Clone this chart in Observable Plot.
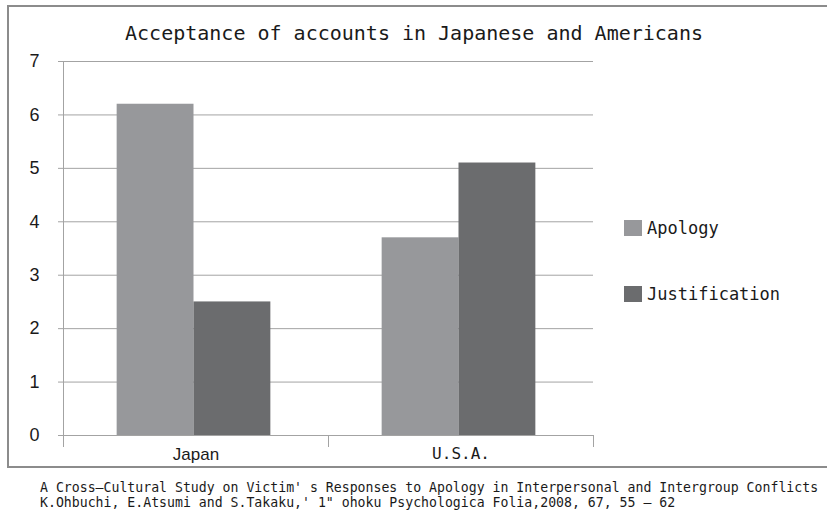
<!DOCTYPE html>
<html>
<head>
<meta charset="utf-8">
<script src="https://cdn.jsdelivr.net/npm/d3@7"></script>
<script src="https://cdn.jsdelivr.net/npm/@observablehq/plot@0.6"></script>
<style>
  body { margin: 0; background: #fff; overflow: hidden; }
  #wrap { position: relative; width: 827px; height: 517px; overflow: hidden; background: #fff; }
  #border { position: absolute; left: 7px; top: 5px; width: 840px; height: 463px; border: 2px solid #8c8c8c; box-sizing: border-box; }
  #title { position: absolute; left: 0; width: 828px; top: 23px; text-align: center; font: 20px/1 "DejaVu Sans Mono", monospace; color: #1a1a1a; white-space: nowrap; }
  #chart { position: absolute; left: 0; top: 0; }
  .leg { position: absolute; left: 624px; font: 17px/1 "DejaVu Sans Mono", monospace; color: #1a1a1a; white-space: nowrap; }
  .leg i { display: inline-block; width: 18px; height: 16px; margin-right: 5px; vertical-align: -2px; }
  .cap { position: absolute; left: 40px; font: 13.2px/15px "DejaVu Sans Mono", monospace; color: #1a1a1a; white-space: nowrap; }
</style>
</head>
<body>
<div id="wrap">
  <div id="border"></div>
  <div id="title"></div>
  <div id="chart"></div>
  <div id="legend"></div>
  <div id="caption"></div>
</div>
<script>
// ---- data ----
const titleText = "Acceptance of accounts in Japanese and Americans";
const countries = ["Japan", "U.S.A."];
const seriesNames = ["Apology", "Justification"];
const apology = [6.2, 3.7];
const justification = [2.5, 5.1];
const yTicks = [0, 1, 2, 3, 4, 5, 6, 7];
const seriesColors = ["#97989b", "#6b6c6e"];
const captionLines = [
  "A Cross\u2014Cultural Study on Victim' s Responses to Apology in Interpersonal and Intergroup Conflicts",
  "K.Ohbuchi, E.Atsumi and S.Takaku,' 1\" ohoku Psychologica Folia,2008, 67, 55 \u2014 62"
];

const rows = countries.flatMap((c, i) => [
  {country: c, series: seriesNames[0], value: apology[i]},
  {country: c, series: seriesNames[1], value: justification[i]}
]);

// ---- layout ----
const W = 827, H = 517, ml = 63, mr = 234, mt = 61, mb = 82;
const bw = (W - ml - mr) / countries.length;
const groupW = bw * 0.58;
const side = (bw - groupW) / 2 - 2;
const barW = groupW / 2;
const axisGray = "#a3a3a3";
const textCol = "#1a1a1a";

document.getElementById("title").textContent = titleText;

const chart = Plot.plot({
  width: W, height: H,
  marginLeft: ml, marginRight: mr, marginTop: mt, marginBottom: mb,
  style: {background: "transparent", overflow: "visible", fontSize: "18px", fontFamily: "Liberation Sans"},
  x: {domain: countries, padding: 0},
  y: {domain: [0, 7]},
  color: {domain: seriesNames, range: seriesColors},
  marks: [
    Plot.ruleY(yTicks, {stroke: axisGray, strokeWidth: 1}),
    Plot.barY(rows.filter(d => d.series === seriesNames[0]), {
      x: "country", y: "value", fill: "series", insetLeft: side, insetRight: bw - side - barW
    }),
    Plot.barY(rows.filter(d => d.series === seriesNames[1]), {
      x: "country", y: "value", fill: "series", insetLeft: side + barW, insetRight: bw - side - 2 * barW
    }),
    Plot.ruleX([countries[0]], {y1: 0, y2: 7, dx: -bw / 2, stroke: axisGray}),
    Plot.axisY({
      ticks: yTicks, tickSize: 5, tickPadding: 19, stroke: axisGray, fill: textCol, color: textCol,
      fontSize: 18, fontFamily: "Liberation Sans", label: null, tickFormat: d => String(d)
    }),
    Plot.axisX({
      ticks: countries, tickSize: 12, dx: -bw / 2, stroke: axisGray, tickFormat: () => "", label: null
    }),
    Plot.axisX({
      ticks: [countries[countries.length - 1]], tickSize: 12, dx: bw / 2, stroke: axisGray, tickFormat: () => "", label: null
    }),
    Plot.axisX({
      ticks: [countries[0]], tickSize: 0, tickPadding: 12, fill: textCol, color: textCol,
      fontSize: 17, fontFamily: "Liberation Sans", label: null
    }),
    Plot.axisX({
      ticks: [countries[1]], tickSize: 0, tickPadding: 12, fill: textCol, color: textCol,
      fontSize: 16, fontFamily: "DejaVu Sans Mono", label: null
    })
  ]
});
document.getElementById("chart").appendChild(chart);

// legend
const legend = document.getElementById("legend");
const legTops = [220, 286];
seriesNames.forEach((s, i) => {
  const div = document.createElement("div");
  div.className = "leg";
  div.style.top = legTops[i] + "px";
  const sw = document.createElement("i");
  sw.style.background = seriesColors[i];
  div.appendChild(sw);
  div.appendChild(document.createTextNode(s));
  legend.appendChild(div);
});

// caption
const cap = document.getElementById("caption");
captionLines.forEach((t, i) => {
  const div = document.createElement("div");
  div.className = "cap";
  div.style.top = (480 + i * 15) + "px";
  div.textContent = t;
  cap.appendChild(div);
});
</script>
</body>
</html>
